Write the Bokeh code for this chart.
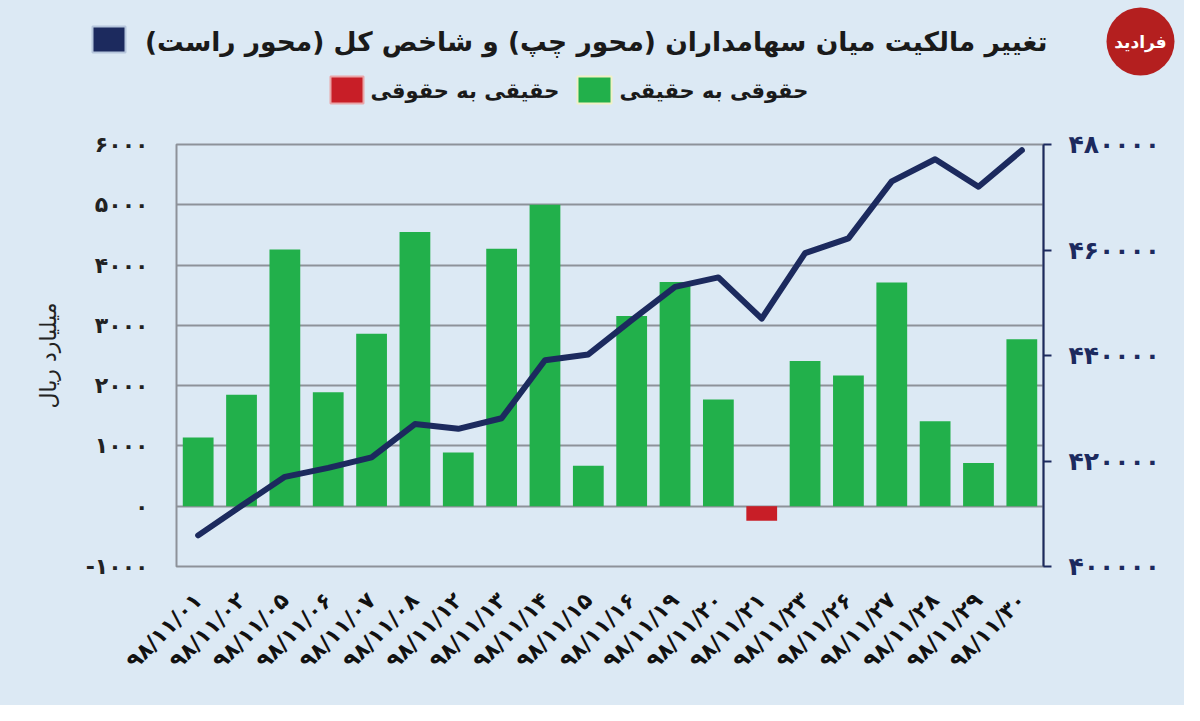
import math
from bokeh.plotting import figure
from bokeh.layouts import column
from bokeh.models import ColumnDataSource, Range1d, LinearAxis, FixedTicker
from bokeh.core.properties import value
from bokeh.embed import file_html
from bokeh.resources import INLINE

# ---------------- data ----------------
dates = ["۹۸/۱۱/۰۱", "۹۸/۱۱/۰۲", "۹۸/۱۱/۰۵", "۹۸/۱۱/۰۶", "۹۸/۱۱/۰۷",
         "۹۸/۱۱/۰۸", "۹۸/۱۱/۱۲", "۹۸/۱۱/۱۳", "۹۸/۱۱/۱۴", "۹۸/۱۱/۱۵",
         "۹۸/۱۱/۱۶", "۹۸/۱۱/۱۹", "۹۸/۱۱/۲۰", "۹۸/۱۱/۲۱", "۹۸/۱۱/۲۳",
         "۹۸/۱۱/۲۶", "۹۸/۱۱/۲۷", "۹۸/۱۱/۲۸", "۹۸/۱۱/۲۹", "۹۸/۱۱/۳۰"]
ownership_change = [1140, 1850, 4260, 1890, 2860, 4550, 890, 4270, 5000, 670,
                    3155, 3720, 1770, -240, 2410, 2170, 3710, 1410, 715, 2770]
total_index = [405900, 411500, 417000, 418700, 420700, 427000, 426100, 428100,
               439100, 440200, 446700, 453000, 454800, 447000, 459400, 462200,
               473000, 477200, 472000, 478900]
left_ticks = [-1000, 0, 1000, 2000, 3000, 4000, 5000, 6000]
left_tick_labels = ["-۱۰۰۰", "۰", "۱۰۰۰", "۲۰۰۰", "۳۰۰۰", "۴۰۰۰", "۵۰۰۰", "۶۰۰۰"]
right_ticks = [400000, 420000, 440000, 460000, 480000]
right_tick_labels = ["۴۰۰۰۰۰", "۴۲۰۰۰۰", "۴۴۰۰۰۰", "۴۶۰۰۰۰", "۴۸۰۰۰۰"]
title_text = "تغییر مالکیت میان سهامداران (محور چپ) و شاخص کل (محور راست)"
legend_pos = "حقوقی به حقیقی"
legend_neg = "حقیقی به حقوقی"
y_title = "میلیارد ریال"
logo_text = "فرادید"

# ---------------- style ----------------
BG = "#dce9f4"
GREEN = "#22b04b"
RED = "#c81e27"
NAVY = "#1c2a5e"
GRID = "#8d9299"
TXT = "#1a1a1a"
FONT = "DejaVu Sans"
W = 1184
HEAD_H = 110
MAIN_H = 595

# ---------------- header: title, legend, logo ----------------
h = figure(width=W, height=HEAD_H, x_range=Range1d(0, W),
           y_range=Range1d(HEAD_H, 0), output_backend="svg",
           toolbar_location=None, min_border=0, background_fill_color=BG,
           border_fill_color=BG, outline_line_color=None, frame_align=False)
h.axis.visible = False
h.grid.visible = False

# legend swatches: navy (index line), red (neg), green (pos)
h.quad(left=[92], right=[125], top=[26], bottom=[52], fill_color=NAVY,
       line_color="#b6c6dc", line_width=2)
h.quad(left=[330], right=[363], top=[76], bottom=[103], fill_color=RED,
       line_color="#e9a6a9", line_width=2)
h.quad(left=[577], right=[611], top=[76], bottom=[103], fill_color=GREEN,
       line_color="#f1f1c6", line_width=2)
h.text(x=[1047], y=[41], text=[title_text], text_align="right",
       text_baseline="middle", text_font=value(FONT), text_font_style="bold",
       text_font_size="26.5px", text_color=TXT)
h.text(x=[370, 619], y=[90, 90], text=[legend_neg, legend_pos],
       text_align="left", text_baseline="middle", text_font=value(FONT),
       text_font_style="bold", text_font_size="21px", text_color=TXT)
# logo
h.circle(x=[1140], y=[41], radius=34, fill_color="#b41f1f", line_color=None)
h.text(x=[1140], y=[41], text=[logo_text], text_align="center",
       text_baseline="middle", text_font=value(FONT), text_font_style="bold",
       text_font_size="17px", text_color="white")

# ---------------- main chart ----------------
colors = [GREEN if v >= 0 else RED for v in ownership_change]
src = ColumnDataSource(dict(date=dates, value=ownership_change,
                            index=total_index, color=colors))

p = figure(x_range=dates, y_range=Range1d(left_ticks[0], left_ticks[-1]),
           width=W, height=MAIN_H, output_backend="svg", toolbar_location=None,
           min_border_left=176, min_border_right=141, min_border_top=34,
           min_border_bottom=139, background_fill_color=BG,
           border_fill_color=BG, outline_line_color=GRID, outline_line_width=2,
           frame_align=False)
p.extra_y_ranges = {"idx": Range1d(right_ticks[0], right_ticks[-1])}

p.vbar(x="date", top="value", width=0.71, source=src,
       fill_color="color", line_color=None)
p.line(x="date", y="index", source=src, y_range_name="idx",
       line_color=NAVY, line_width=6, line_join="round", line_cap="round")

# grid
p.xgrid.grid_line_color = None
p.ygrid.ticker = FixedTicker(ticks=left_ticks)
p.ygrid.grid_line_color = GRID
p.ygrid.grid_line_width = 2

# left axis
la = p.left[0]
la.ticker = FixedTicker(ticks=left_ticks)
la.major_label_overrides = {t: s for t, s in zip(left_ticks, left_tick_labels)}
la.axis_line_color = None
la.major_tick_line_color = None
la.minor_tick_line_color = None
la.major_tick_out = 0
la.major_label_standoff = 28
la.major_label_text_font = FONT
la.major_label_text_font_style = "bold"
la.major_label_text_font_size = "22px"
la.major_label_text_color = "#222222"
la.axis_label = y_title
la.axis_label_text_font = FONT
la.axis_label_text_font_style = "normal"
la.axis_label_text_font_size = "22px"
la.axis_label_text_color = "#222222"
la.axis_label_standoff = 22

# right axis
ra = LinearAxis(y_range_name="idx", ticker=FixedTicker(ticks=right_ticks))
ra.major_label_overrides = {t: s for t, s in zip(right_ticks, right_tick_labels)}
ra.axis_line_color = NAVY
ra.axis_line_width = 2
ra.major_tick_line_color = NAVY
ra.major_tick_line_width = 2
ra.major_tick_out = 8
ra.major_tick_in = 0
ra.minor_tick_line_color = None
ra.major_label_standoff = 17
ra.major_label_text_font = FONT
ra.major_label_text_font_style = "bold"
ra.major_label_text_font_size = "25px"
ra.major_label_text_color = NAVY
p.add_layout(ra, "right")

# x axis
xa = p.below[0]
xa.major_label_orientation = math.pi / 4
xa.axis_line_color = None
xa.major_tick_line_color = None
xa.minor_tick_line_color = None
xa.major_label_standoff = 24
xa.major_label_text_font = FONT
xa.major_label_text_font_style = "bold"
xa.major_label_text_font_size = "22px"
xa.major_label_text_color = "#111111"

layout = column(h, p, spacing=0, styles={"background-color": BG})
open("out.html", "w").write(file_html(layout, INLINE))
